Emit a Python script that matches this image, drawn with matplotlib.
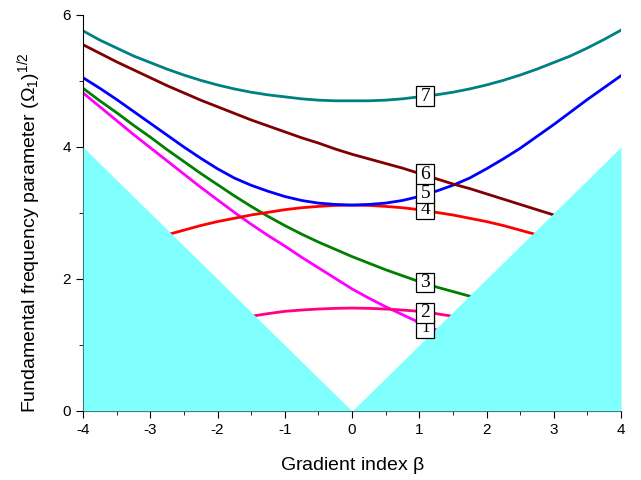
import matplotlib.pyplot as plt
import numpy as np
from matplotlib.patches import Rectangle
from matplotlib.transforms import ScaledTranslation

plt.rcParams['axes.unicode_minus'] = False

# mode curves, beta vs (Omega_1)^1/2, step 0.25
beta = np.arange(-4, 4.01, 0.25)

mode7 = [5.76, 5.62, 5.50, 5.38, 5.28, 5.18, 5.09, 5.01, 4.94, 4.88, 4.83, 4.79, 4.76, 4.73, 4.71, 4.70,
         4.70, 4.70, 4.71, 4.73, 4.76, 4.79, 4.83, 4.88, 4.94, 5.01, 5.09, 5.18, 5.28, 5.38, 5.50, 5.63, 5.77]
mode6 = [5.55, 5.42, 5.29, 5.17, 5.05, 4.93, 4.82, 4.71, 4.61, 4.51, 4.41, 4.32, 4.23, 4.14, 4.06, 3.97,
         3.89, 3.82, 3.75, 3.68, 3.60, 3.52, 3.44, 3.37, 3.29, 3.21, 3.13, 3.05, 2.97, 2.89, 2.81, 2.73, 2.65]
mode5 = [5.05, 4.89, 4.72, 4.54, 4.36, 4.18, 4.00, 3.83, 3.67, 3.53, 3.42, 3.33, 3.25, 3.19, 3.15, 3.13,
         3.12, 3.13, 3.15, 3.19, 3.25, 3.33, 3.42, 3.53, 3.67, 3.82, 3.98, 4.16, 4.34, 4.53, 4.72, 4.90, 5.08]
mode4 = [2.20, 2.31, 2.41, 2.50, 2.59, 2.67, 2.74, 2.81, 2.87, 2.92, 2.97, 3.01, 3.05, 3.08, 3.10, 3.115,
         3.12, 3.115, 3.10, 3.08, 3.05, 3.01, 2.97, 2.92, 2.87, 2.81, 2.74, 2.67, 2.59, 2.50, 2.41, 2.31, 2.20]
mode3 = [4.89, 4.70, 4.52, 4.33, 4.15, 3.96, 3.78, 3.60, 3.43, 3.26, 3.10, 2.95, 2.81, 2.68, 2.56, 2.45,
         2.34, 2.24, 2.14, 2.05, 1.96, 1.88, 1.81, 1.74, 1.67, 1.61, 1.55, 1.49, 1.44, 1.39, 1.34, 1.29, 1.25]
mode2 = [0.75, 0.84, 0.92, 1.00, 1.08, 1.15, 1.22, 1.28, 1.34, 1.39, 1.435, 1.475, 1.51, 1.53, 1.545, 1.555,
         1.56, 1.555, 1.545, 1.53, 1.51, 1.475, 1.435, 1.39, 1.34, 1.28, 1.22, 1.15, 1.08, 1.00, 0.92, 0.84, 0.75]
mode1 = [4.82, 4.61, 4.40, 4.19, 3.99, 3.79, 3.59, 3.39, 3.20, 3.01, 2.83, 2.66, 2.50, 2.33, 2.17, 2.01,
         1.85, 1.71, 1.58, 1.46, 1.34, 1.23, 1.13, 1.04, 0.96, 0.89, 0.83, 0.78, 0.73, 0.69, 0.65, 0.62, 0.59]

curves = [mode1, mode2, mode3, mode4, mode5, mode6, mode7]
colors = ['#FF00FF', '#FF0080', '#007F00', '#FF0000', '#0000FF', '#800000', '#008080']
labels = ['1', '2', '3', '4', '5', '6', '7']
label_x = 1.09
label_y = [1.25, 1.485, 1.95, 3.05, 3.30, 3.59, 4.77]

fig, ax = plt.subplots(figsize=(6.41, 4.8), dpi=100)
plt.subplots_adjust(left=0.1295, right=0.9688, top=0.96875, bottom=0.14375)

for y, c in zip(curves, colors):
    ax.plot(beta, y, color=c, lw=2, zorder=2)

# forbidden region below |beta|
ax.fill_between(beta, 0, np.abs(beta), color='#80FFFF', lw=0, zorder=3)

# curve number tags: fixed size boxes (inches) centred on a data point
bw, bh = 0.18, 0.195
for i, (lab, ly) in enumerate(zip(labels, label_y)):
    tr = fig.dpi_scale_trans + ScaledTranslation(label_x, ly, ax.transData)
    ax.add_patch(Rectangle((-bw / 2, -bh / 2), bw, bh, transform=tr, fc='white',
                           ec='black', lw=0.9, zorder=5 + 2 * i, clip_on=False))
    ax.text(label_x, ly, lab, ha='center', va='center', fontsize=14 if lab != '1' else 12,
            family='Liberation Serif', zorder=6 + 2 * i)

ax.set_xlim(-4, 4)
ax.set_ylim(0, 6)
ax.set_xticks(range(-4, 5))
ax.set_xticks(np.arange(-3.5, 4, 1), minor=True)
ax.set_yticks([0, 2, 4, 6])
ax.set_yticks([1, 3, 5], minor=True)
ax.spines['top'].set_visible(False)
ax.spines['right'].set_visible(False)
ax.tick_params(direction='out', length=5, labelsize=11)
ax.tick_params(which='minor', direction='out', length=3)
for lbl in ax.get_xticklabels() + ax.get_yticklabels():
    lbl.set_family('Liberation Sans')

ax.set_xlabel(r'Gradient index $\mathregular{\beta}$', fontsize=14, family='Liberation Sans')
ax.set_ylabel(r'Fundamental frequency parameter ($\mathregular{\Omega_1}$)$\mathregular{^{1/2}}$',
              fontsize=14, family='Liberation Sans')
ax.xaxis.set_label_coords(0.5, -0.11)
ax.yaxis.set_label_coords(-0.075, 0.45)

plt.savefig('out.png')
